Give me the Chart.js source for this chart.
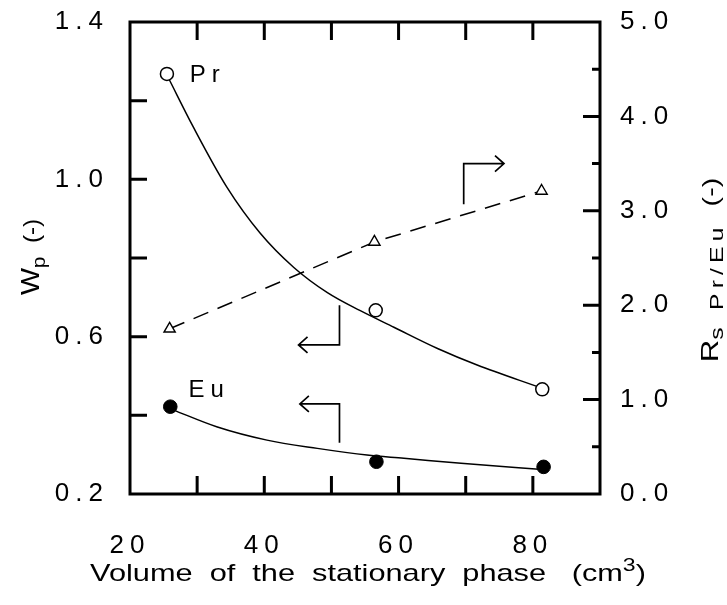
<!DOCTYPE html>
<html>
<head>
<meta charset="utf-8">
<script src="https://cdn.jsdelivr.net/npm/chart.js@4.4.1/dist/chart.umd.min.js"></script>
<style>
  html, body { margin: 0; padding: 0; background: #fff; }
  #wrap { width: 727px; height: 605px; }
</style>
</head>
<body>
<div id="wrap"><canvas id="chart" width="727" height="605"></canvas></div>
<script>
const volPr = [25.5, 56.6, 81.4];
const wpPr = [1.268, 0.667, 0.466];
const volEu = [26.0, 56.7, 81.6];
const wpEu = [0.422, 0.282, 0.269];
const volRs = [25.9, 56.4, 81.3];
const rsPrEu = [1.75, 2.67, 3.21];

// fitted curves
const prFitX = [25.8, 29.4, 34.4, 39.4, 44.4, 49.4, 54.3, 59.3, 65.8, 71.7, 81.2];
const prFitY = [1.255, 1.134, 0.981, 0.863, 0.776, 0.712, 0.666, 0.624, 0.570, 0.528, 0.470];
const euFitX = [26.4, 32.9, 40.4, 47.9, 55.3, 60.8, 69.3, 81.4];
const euFitY = [0.414, 0.371, 0.337, 0.316, 0.299, 0.291, 0.278, 0.262];

// tick labels
const xTickLabels = [20, 40, 60, 80];
const wpTickLabels = [0.2, 0.6, 1.0, 1.4];
const rsTickLabels = [0, 1, 2, 3, 4, 5];

const FONT = "'Liberation Sans', Arial, Helvetica, sans-serif";

function pts(xs, ys) {
  return xs.map((x, i) => ({ x: x, y: ys[i] }));
}
function hasVal(list, v) {
  return list.some(t => Math.abs(t - v) < 1e-6);
}

// annotations (data coordinates)
const notes = [
  { text: 'Pr', x: 28.9, y: 1.247, axis: 'y' },
  { text: 'Eu', x: 28.7, y: 0.447, axis: 'y' }
];
const arrows = [
  { axis: 'y2', path: [[69.7, 3.07], [69.7, 3.50], [75.7, 3.50]] },
  { axis: 'y', path: [[51.2, 0.680], [51.2, 0.579], [45.1, 0.579]] },
  { axis: 'y', path: [[51.2, 0.330], [51.2, 0.429], [45.3, 0.429]] }
];

// draw text pieces in a row (for sub/superscripts), stretched by sx
function drawRich(ctx, parts, x, y, sx) {
  ctx.save();
  ctx.translate(x, y);
  ctx.scale(sx, 1);
  ctx.textBaseline = 'alphabetic';
  ctx.textAlign = 'left';
  let total = 0;
  parts.forEach(p => {
    ctx.letterSpacing = (p.ls || 0) + 'px';
    ctx.font = p.size + 'px ' + FONT;
    p.w = ctx.measureText(p.t).width;
    total += p.w;
  });
  let cx = -total / 2;
  parts.forEach(p => {
    ctx.letterSpacing = (p.ls || 0) + 'px';
    ctx.font = p.size + 'px ' + FONT;
    ctx.fillText(p.t, cx, p.dy || 0);
    cx += p.w;
  });
  ctx.restore();
}

function noPad(s) {
  s.paddingTop = 0;
  s.paddingBottom = 0;
  s.paddingLeft = 0;
  s.paddingRight = 0;
}

const framePlugin = {
  id: 'frame',
  beforeDraw(chart) {
    chart.ctx.letterSpacing = '6px';
  },
  afterDraw(chart) {
    const ctx = chart.ctx;
    const a = chart.chartArea;
    const xs = chart.scales.x, ys = chart.scales.y, y2 = chart.scales.y2;
    ctx.save();
    ctx.strokeStyle = '#000';
    ctx.fillStyle = '#000';
    ctx.lineCap = 'butt';

    // frame
    ctx.lineWidth = 3;
    ctx.strokeRect(a.left, a.top, a.right - a.left, a.bottom - a.top);

    // inward tick marks
    ctx.beginPath();
    xs.ticks.forEach(t => {
      if (t.value <= xs.min || t.value >= xs.max) return;
      const px = xs.getPixelForValue(t.value);
      ctx.moveTo(px, a.bottom); ctx.lineTo(px, a.bottom - 18);
      ctx.moveTo(px, a.top); ctx.lineTo(px, a.top + 18);
    });
    ys.ticks.forEach(t => {
      if (t.value <= ys.min + 1e-6 || t.value >= ys.max - 1e-6) return;
      const py = ys.getPixelForValue(t.value);
      ctx.moveTo(a.left, py); ctx.lineTo(a.left + 17, py);
    });
    y2.ticks.forEach(t => {
      if (t.value <= y2.min + 1e-6 || t.value >= y2.max - 1e-6) return;
      const py = y2.getPixelForValue(t.value);
      const len = hasVal(rsTickLabels, t.value) ? 17 : 8;
      ctx.moveTo(a.right, py); ctx.lineTo(a.right - len, py);
    });
    ctx.stroke();

    // arrows
    ctx.lineWidth = 1.7;
    arrows.forEach(ar => {
      const sc = chart.scales[ar.axis];
      const p = ar.path.map(q => [xs.getPixelForValue(q[0]), sc.getPixelForValue(q[1])]);
      ctx.beginPath();
      ctx.moveTo(p[0][0], p[0][1]);
      for (let i = 1; i < p.length; i++) ctx.lineTo(p[i][0], p[i][1]);
      const tip = p[p.length - 1], prev = p[p.length - 2];
      const dir = Math.sign(tip[0] - prev[0]);
      ctx.moveTo(tip[0] - dir * 9, tip[1] - 8);
      ctx.lineTo(tip[0], tip[1]);
      ctx.lineTo(tip[0] - dir * 9, tip[1] + 8);
      ctx.stroke();
    });

    // series labels
    ctx.letterSpacing = '6px';
    ctx.font = '24px ' + FONT;
    ctx.textAlign = 'left';
    ctx.textBaseline = 'alphabetic';
    notes.forEach(n => {
      ctx.fillText(n.text, xs.getPixelForValue(n.x), chart.scales[n.axis].getPixelForValue(n.y));
    });

    // axis titles
    drawRich(ctx, [
      { t: 'Volume  of  the  stationary  phase   (cm', size: 24 },
      { t: '3', size: 18, dy: -10 },
      { t: ')', size: 24 }
    ], 368, 581, 1.28);

    ctx.save();
    ctx.translate(39, 257);
    ctx.rotate(-Math.PI / 2);
    drawRich(ctx, [
      { t: 'W', size: 26 },
      { t: 'p', size: 19, dy: 6 },
      { t: '  (-)', size: 22 }
    ], 0, 0, 1.1);
    ctx.restore();

    ctx.save();
    ctx.translate(718, 270);
    ctx.rotate(-Math.PI / 2);
    drawRich(ctx, [
      { t: 'R', size: 24 },
      { t: 's Pr/Eu', size: 19, dy: 5, ls: 4 },
      { t: '  (-)', size: 22 }
    ], 0, 0, 1.3);
    ctx.restore();

    ctx.restore();
  }
};

const tickFont = { family: FONT, size: 26 };

new Chart(document.getElementById('chart'), {
  type: 'scatter',
  data: {
    datasets: [
      {
        label: 'Pr',
        data: pts(volPr, wpPr),
        yAxisID: 'y',
        showLine: false,
        pointStyle: 'circle',
        pointRadius: 6.5,
        pointBackgroundColor: '#fff',
        pointBorderColor: '#000',
        pointBorderWidth: 1.5
      },
      {
        label: 'Eu',
        data: pts(volEu, wpEu),
        yAxisID: 'y',
        showLine: false,
        pointStyle: 'circle',
        pointRadius: 6.8,
        pointBackgroundColor: '#000',
        pointBorderColor: '#000',
        pointBorderWidth: 1
      },
      {
        label: 'Rs Pr/Eu',
        data: pts(volRs, rsPrEu),
        yAxisID: 'y2',
        showLine: true,
        borderColor: '#000',
        borderWidth: 1.5,
        borderDash: [16, 10],
        tension: 0,
        pointStyle: 'triangle',
        pointRadius: 6.5,
        pointBackgroundColor: '#fff',
        pointBorderColor: '#000',
        pointBorderWidth: 1.4
      },
      {
        label: 'Pr fit',
        data: pts(prFitX, prFitY),
        yAxisID: 'y',
        showLine: true,
        borderColor: '#000',
        borderWidth: 1.5,
        cubicInterpolationMode: 'monotone',
        pointRadius: 0
      },
      {
        label: 'Eu fit',
        data: pts(euFitX, euFitY),
        yAxisID: 'y',
        showLine: true,
        borderColor: '#000',
        borderWidth: 1.5,
        cubicInterpolationMode: 'monotone',
        pointRadius: 0
      }
    ]
  },
  options: {
    responsive: false,
    animation: false,
    layout: { padding: { top: 22, left: 0, right: 0, bottom: 0 } },
    plugins: {
      legend: { display: false },
      tooltip: { enabled: false }
    },
    scales: {
      x: {
        type: 'linear',
        position: 'bottom',
        min: 20,
        max: 90,
        grid: { display: false, drawTicks: false },
        border: { display: false },
        ticks: {
          stepSize: 10,
          autoSkip: false,
          maxRotation: 0,
          color: '#000',
          font: tickFont,
          padding: 36,
          callback: v => hasVal(xTickLabels, v) ? String(v) : ''
        },
        afterFit: s => { noPad(s); s.height = 111; }
      },
      y: {
        type: 'linear',
        position: 'left',
        min: 0.2,
        max: 1.4,
        grid: { display: false, drawTicks: false },
        border: { display: false },
        ticks: {
          stepSize: 0.2,
          autoSkip: false,
          color: '#000',
          font: tickFont,
          padding: 21,
          callback: v => hasVal(wpTickLabels, v) ? v.toFixed(1) : ''
        },
        afterFit: s => { noPad(s); s.width = 130; }
      },
      y2: {
        type: 'linear',
        position: 'right',
        min: 0,
        max: 5,
        grid: { display: false, drawTicks: false },
        border: { display: false },
        ticks: {
          stepSize: 0.5,
          autoSkip: false,
          color: '#000',
          font: tickFont,
          padding: 20,
          callback: v => hasVal(rsTickLabels, v) ? v.toFixed(1) : ''
        },
        afterFit: s => { noPad(s); s.width = 127; }
      }
    }
  },
  plugins: [framePlugin]
});
</script>
</body>
</html>
